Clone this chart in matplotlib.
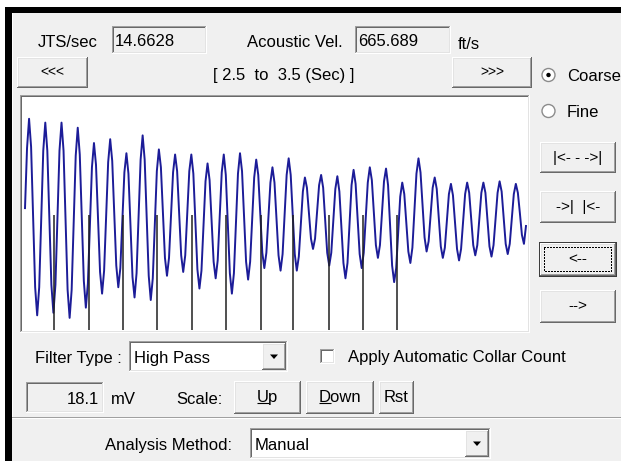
import numpy as np
import matplotlib
matplotlib.use("Agg")
import matplotlib.pyplot as plt
from matplotlib.patches import Rectangle, Polygon, Circle

window = [2.5, 3.5]
full_scale_mv = 18.1
sample_rate = 248.0
t_first = 2.502
trace_mv = [
    0.5, 5.2,
    7.5, 5.3, -0.2, -5.7, -7.9, -5.7, -0.4, 5.0,
    7.2, 5.0, -0.3, -5.5, -7.7, -5.5, -0.3, 5.0,
    7.2, 5.0, -0.5, -5.9, -8.1, -5.9, -0.7, 4.6,
    6.8, 4.7, -0.3, -5.2, -7.3, -5.4, -0.9, 3.7,
    5.6, 3.9, -0.3, -4.5, -6.2, -4.4, -0.2, 4.1,
    5.9, 4.2, 0.1, -4.0, -5.7, -4.2, -0.5, 3.3,
    4.8, 3.2, -0.9, -4.9, -6.5, -4.6, -0.2, 4.3,
    6.2, 4.3, -0.3, -4.8, -6.7, -5.0, -0.8, 3.4,
    5.1, 3.7, 0.2, -3.4, -4.8, -3.4, 0.0, 3.3,
    4.7, 3.4, 0.1, -3.2, -4.5, -3.2, 0.1, 3.4,
    4.7, 3.2, -0.6, -4.3, -5.8, -4.4, -0.9, 2.6,
    4.0, 2.7, -0.5, -3.7, -5.0, -3.6, -0.2, 3.3,
    4.7, 3.1, -0.8, -4.6, -6.2, -4.6, -0.7, 3.2,
    4.8, 3.4, -0.2, -3.7, -5.1, -3.7, -0.4, 2.9,
    4.3, 3.1, 0.1, -3.0, -4.2, -3.0, -0.3, 2.5,
    3.7, 2.5, -0.4, -3.2, -4.4, -3.1, 0.0, 3.1,
    4.4, 3.1, 0.0, -3.1, -4.4, -3.3, -0.8, 1.8,
    2.9, 2.1, 0.1, -1.9, -2.7, -1.9, 0.2, 2.3,
    3.1, 2.1, -0.5, -3.0, -4.0, -3.0, -0.5, 2.0,
    3.0, 1.8, -1.0, -3.8, -5.0, -3.8, -0.8, 2.3,
    3.5, 2.4, -0.4, -3.1, -4.2, -3.0, -0.3, 2.5,
    3.7, 2.7, 0.2, -2.4, -3.4, -2.4, 0.1, 2.6,
    3.6, 2.3, -0.9, -4.0, -5.3, -4.2, -1.4, 1.4,
    2.5, 1.6, -0.7, -2.9, -3.8, -2.6, 0.3, 3.2,
    4.4, 3.3, 0.8, -1.8, -2.9, -2.1, 0.0, 2.1,
    2.9, 2.0, -0.3, -2.5, -3.4, -2.6, -0.5, 1.6,
    2.4, 1.5, -0.6, -2.7, -3.6, -2.7, -0.6, 1.6,
    2.5, 1.7, -0.4, -2.4, -3.2, -2.4, -0.4, 1.7,
    2.5, 1.7, -0.4, -2.5, -3.3, -2.4, -0.4, 1.7,
    2.6, 1.8, -0.3, -2.3, -3.1, -2.3, -0.4, 1.6,
    2.4, 1.7, 0.1, -1.6, -2.3, -0.9,
]
# marcas de colar (s)
collar_times = [2.5596, 2.6292, 2.6962, 2.7638, 2.8334, 2.9016,
                2.9706, 3.0354, 3.1064, 3.1734, 3.2410]

jts_per_sec = "14.6628"
acoustic_vel = "665.689"
filter_type = "High Pass"
analysis_method = "Manual"

plt.rcParams['font.family'] = ['Liberation Sans', 'DejaVu Sans']
FS = 12
W, H = 621, 461
BG = '#f0f0f0'

fig = plt.figure(figsize=(W / 100, H / 100), dpi=100, facecolor=BG)
ui = fig.add_axes([0, 0, 1, 1], zorder=0)
ui.set_xlim(0, W)
ui.set_ylim(H, 0)
ui.axis('off')


def rect(x0, y0, x1, y1, c):
    ui.add_patch(Rectangle((x0, y0), x1 - x0, y1 - y0, facecolor=c,
                           edgecolor='none', antialiased=False))


def sunken(x0, y0, x1, y1, face=BG):
    rect(x0, y0, x1, y1, '#ffffff')
    rect(x0, y0, x1 - 1, y1 - 1, '#a0a0a0')
    rect(x0 + 1, y0 + 1, x1 - 1, y1 - 1, '#e3e3e3')
    rect(x0 + 1, y0 + 1, x1 - 2, y1 - 2, '#696969')
    rect(x0 + 2, y0 + 2, x1 - 2, y1 - 2, face)


def raised(x0, y0, x1, y1, label=None, default=False, fs=FS):
    if default:
        rect(x0, y0, x1, y1, '#3c3c3c')
        x0, y0, x1, y1 = x0 + 1, y0 + 1, x1 - 1, y1 - 1
    rect(x0, y0, x1, y1, '#696969')
    rect(x0, y0, x1 - 1, y1 - 1, '#ffffff')
    rect(x0 + 1, y0 + 1, x1 - 1, y1 - 1, '#a0a0a0')
    rect(x0 + 1, y0 + 1, x1 - 2, y1 - 2, '#e3e3e3')
    rect(x0 + 2, y0 + 2, x1 - 2, y1 - 2, BG)
    if default:
        ui.add_patch(Rectangle((x0 + 4, y0 + 4), x1 - x0 - 9, y1 - y0 - 9,
                               facecolor='none', edgecolor='black', lw=0.8,
                               linestyle=(0, (1, 1)), antialiased=False))
    if label is not None:
        ui.text((x0 + x1) / 2, (y0 + y1) / 2, label, fontsize=fs,
                ha='center', va='center')


def label(x, y, s, ha='left'):
    return ui.text(x, y, s, fontsize=FS, ha=ha, va='baseline', color='black')


def combo(x0, y0, x1, y1, s):
    sunken(x0, y0, x1, y1, 'white')
    raised(x1 - 26, y0 + 2, x1 - 2, y1 - 2)
    cx, cy = x1 - 14, (y0 + y1) / 2
    ui.add_patch(Polygon([(cx - 4, cy - 2), (cx + 4, cy - 2), (cx, cy + 2.5)],
                         closed=True, facecolor='black', edgecolor='none'))
    label(x0 + 5, (y0 + y1) / 2 + 6, s)


# moldura da janela
rect(0, 0, W, 7, 'white')
rect(0, 0, 5, H, 'white')
rect(5, 7, W, 13, 'black')
rect(5, 7, 12, H, 'black')
rect(12, 13, 13, 417, '#ffffff')
rect(12, 417, W, 418, '#a0a0a0')
rect(12, 418, W, 419, '#ffffff')

# linha 1
label(38, 47, 'JTS/sec')
sunken(112, 26, 207, 54)
label(115, 46, jts_per_sec)
label(247, 47, 'Acoustic Vel.')
sunken(355, 26, 451, 54)
label(358, 46, acoustic_vel)
label(458, 49, 'ft/s')

# linha 2
raised(17, 57, 88, 88, '<<<', fs=10)
label(284, 80, '[ 2.5  to  3.5 (Sec) ]', ha='center')
raised(452, 57, 532, 88, '>>>', fs=10)

# radios
for cy, txt, on in [(75, 'Coarse', True), (111, 'Fine', False)]:
    ui.add_patch(Circle((548.5, cy), 6.5, facecolor='white',
                        edgecolor='#8c8c8c', lw=1.0))
    if on:
        ui.add_patch(Circle((548.5, cy), 2.2, facecolor='black',
                            edgecolor='none'))
    label(567, cy + 6, txt)

# botoes da direita
raised(540, 142, 616, 173, '|<- - ->|', fs=11)
raised(540, 191, 616, 223, '->|  |<-', fs=11)
raised(539, 242, 617, 277, '<--', default=True, fs=11)
raised(540, 290, 616, 323, '-->', fs=11)

# painel do grafico
sunken(20, 95, 530, 333, 'white')

# filtro
label(35, 363, 'Filter Type :')
combo(129, 341, 288, 372, filter_type)
sunken(320, 349, 335, 364, 'white')
label(348, 362, 'Apply Automatic Collar Count')

# escala
sunken(26, 382, 104, 413)
label(99, 404, '%.1f' % full_scale_mv, ha='right')
label(111, 404, 'mV')
label(176, 404, 'Scale:')
raised(234, 381, 301, 414, 'Up')
raised(306, 381, 374, 414, 'Down')
raised(379, 381, 414, 414, 'Rst')

# metodo
label(105, 450, 'Analysis Method:')
combo(250, 428, 491, 459, analysis_method)

# sublinhado dos atalhos (U, D)
fig.canvas.draw()
r = fig.canvas.get_renderer()
for t in ui.texts:
    s = t.get_text()
    if s in ('Up', 'Down'):
        bb = t.get_window_extent(r)
        tmp = ui.text(0, 0, s[0], fontsize=FS)
        w = tmp.get_window_extent(r).width
        tmp.remove()
        yy = H - bb.y0 - 2
        ui.plot([bb.x0, bb.x0 + w], [yy, yy], color='black', lw=0.8,
                solid_capstyle='butt')

# traço
ax = fig.add_axes([24 / W, 1 - 330 / H, 503 / W, 231 / H], zorder=2)
ax.set_facecolor('white')
t = t_first + np.arange(len(trace_mv)) / sample_rate
ax.plot(t, trace_mv, color='#1c1c98', lw=1.4)
ax.vlines(collar_times, -full_scale_mv / 2, 0, color='#202020', lw=1.1,
          zorder=3)
ax.set_xlim(window)
ax.set_ylim(-full_scale_mv / 2, full_scale_mv / 2)
ax.set_xticks([])
ax.set_yticks([])
for sp in ax.spines.values():
    sp.set_visible(False)

fig.savefig('out.png', dpi=100, facecolor=BG)
